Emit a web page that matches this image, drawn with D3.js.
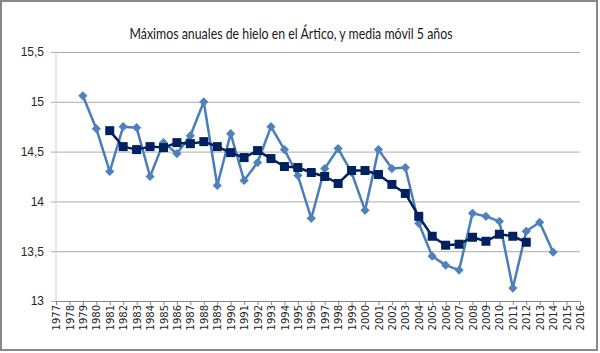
<!DOCTYPE html>
<html lang="es">
    <head>
        <meta charset="utf-8">
        <script type="text/javascript" src="https://cdn.jsdelivr.net/npm/d3@7"></script>
        <title>Máximos anuales de hielo</title>
        <style type="text/css">
            body { margin: 0; background: #fff; }
        </style>
    </head>
    <body>
        <script type="text/javascript">
            var w = 600;
            var h = 353;

            // años del eje
            var years = d3.range(1977, 2017);
            var yTicks = [13, 13.5, 14, 14.5, 15, 15.5];

            // máximos anuales (1979-2014)
            var maxYears = d3.range(1979, 2015);
            var maxValues = [15.06, 14.73, 14.30, 14.75, 14.74, 14.25, 14.59, 14.48, 14.66, 15.00,
                             14.16, 14.68, 14.21, 14.39, 14.75, 14.52, 14.26, 13.83, 14.33, 14.53,
                             14.29, 13.91, 14.52, 14.33, 14.34, 13.78, 13.45, 13.36, 13.31, 13.88,
                             13.85, 13.80, 13.13, 13.70, 13.79, 13.49];

            // media móvil 5 años (1981-2012)
            var avgYears = d3.range(1981, 2013);
            var avgValues = [14.71, 14.55, 14.52, 14.55, 14.54, 14.59, 14.58, 14.60, 14.55, 14.49,
                             14.44, 14.51, 14.43, 14.35, 14.34, 14.29, 14.25, 14.18, 14.31, 14.31,
                             14.27, 14.17, 14.08, 13.85, 13.65, 13.56, 13.57, 13.64, 13.60, 13.67,
                             13.65, 13.59];

            var xScale = d3.scaleLinear()
                            .domain([1977, 2016])
                            .range([56, 580]);

            var yScale = d3.scaleLinear()
                            .domain([13, 15.5])
                            .range([301, 52]);

            var svg = d3.select("body")
                        .append("svg")
                        .attr("width", w)
                        .attr("height", h);

            // marco del gráfico
            svg.append("rect")
                .attr("x", 1)
                .attr("y", 1)
                .attr("width", 596)
                .attr("height", 349)
                .attr("fill", "white")
                .attr("stroke", "#878787")
                .attr("stroke-width", 2);

            // título
            svg.append("text")
                .attr("x", 291)
                .attr("y", 39)
                .attr("text-anchor", "middle")
                .attr("font-family", "Lato, 'Open Sans', sans-serif")
                .attr("font-size", "15px")
                .attr("textLength", 323)
                .attr("lengthAdjust", "spacingAndGlyphs")
                .attr("fill", "#1a1a1a")
                .text("Máximos anuales de hielo en el Ártico, y media móvil 5 años");

            // eje y con líneas de cuadrícula
            var yAxis = d3.axisLeft(yScale)
                            .tickValues(yTicks)
                            .tickSize(529)
                            .tickPadding(7)
                            .tickFormat(function(d){
                                return String(d).replace(".", ",");
                            });

            var gy = svg.append("g")
                        .attr("transform", "translate(580,0)")
                        .call(yAxis);
            gy.select(".domain").remove();
            gy.selectAll("line").attr("stroke", "#ababab");
            gy.selectAll("text")
                .attr("font-family", "'Liberation Sans', Arial, sans-serif")
                .attr("font-size", "12px")
                .attr("fill", "#262626");

            // línea vertical del eje
            svg.append("line")
                .attr("x1", xScale(1977))
                .attr("x2", xScale(1977))
                .attr("y1", yScale(15.5))
                .attr("y2", yScale(13))
                .attr("stroke", "#d0d0d0");

            // eje x
            var xAxis = d3.axisBottom(xScale)
                            .tickValues(years)
                            .tickSize(4)
                            .tickFormat(d3.format("d"));

            var gx = svg.append("g")
                        .attr("transform", "translate(0," + yScale(13) + ")")
                        .call(xAxis);
            gx.select(".domain").attr("stroke", "#868686");
            gx.selectAll("line").attr("stroke", "#868686");
            gx.selectAll("text")
                .attr("font-family", "'DejaVu Sans', sans-serif")
                .attr("font-size", "10px")
                .attr("fill", "#262626")
                .attr("text-anchor", "end")
                .attr("transform", "translate(0,4) rotate(-90)")
                .attr("x", 0)
                .attr("y", 0)
                .attr("dy", "0.36em");

            // serie de máximos
            var maxData = maxYears.map(function(d, i){ return [d, maxValues[i]]; });
            var avgData = avgYears.map(function(d, i){ return [d, avgValues[i]]; });

            var line = d3.line()
                        .x(function(d){ return xScale(d[0]); })
                        .y(function(d){ return yScale(d[1]); });

            svg.append("path")
                .datum(maxData)
                .attr("d", line)
                .attr("fill", "none")
                .attr("stroke", "#4a7ebb")
                .attr("stroke-width", 2.5)
                .attr("stroke-linejoin", "round");

            svg.selectAll("path.diamond")
                .data(maxData)
                .enter()
                .append("path")
                .attr("class", "diamond")
                .attr("d", "M0,-4.6L4.6,0L0,4.6L-4.6,0Z")
                .attr("transform", function(d){
                    return "translate(" + xScale(d[0]) + "," + yScale(d[1]) + ")";
                })
                .attr("fill", "#4f81bd");

            // media móvil
            svg.append("path")
                .datum(avgData)
                .attr("d", line)
                .attr("fill", "none")
                .attr("stroke", "#002060")
                .attr("stroke-width", 2.5)
                .attr("stroke-linejoin", "round");

            svg.selectAll("rect.square")
                .data(avgData)
                .enter()
                .append("rect")
                .attr("class", "square")
                .attr("x", function(d){ return xScale(d[0]) - 4.5; })
                .attr("y", function(d){ return yScale(d[1]) - 4.5; })
                .attr("width", 9)
                .attr("height", 9)
                .attr("fill", "#002060");
        </script>
    </body>
</html>
